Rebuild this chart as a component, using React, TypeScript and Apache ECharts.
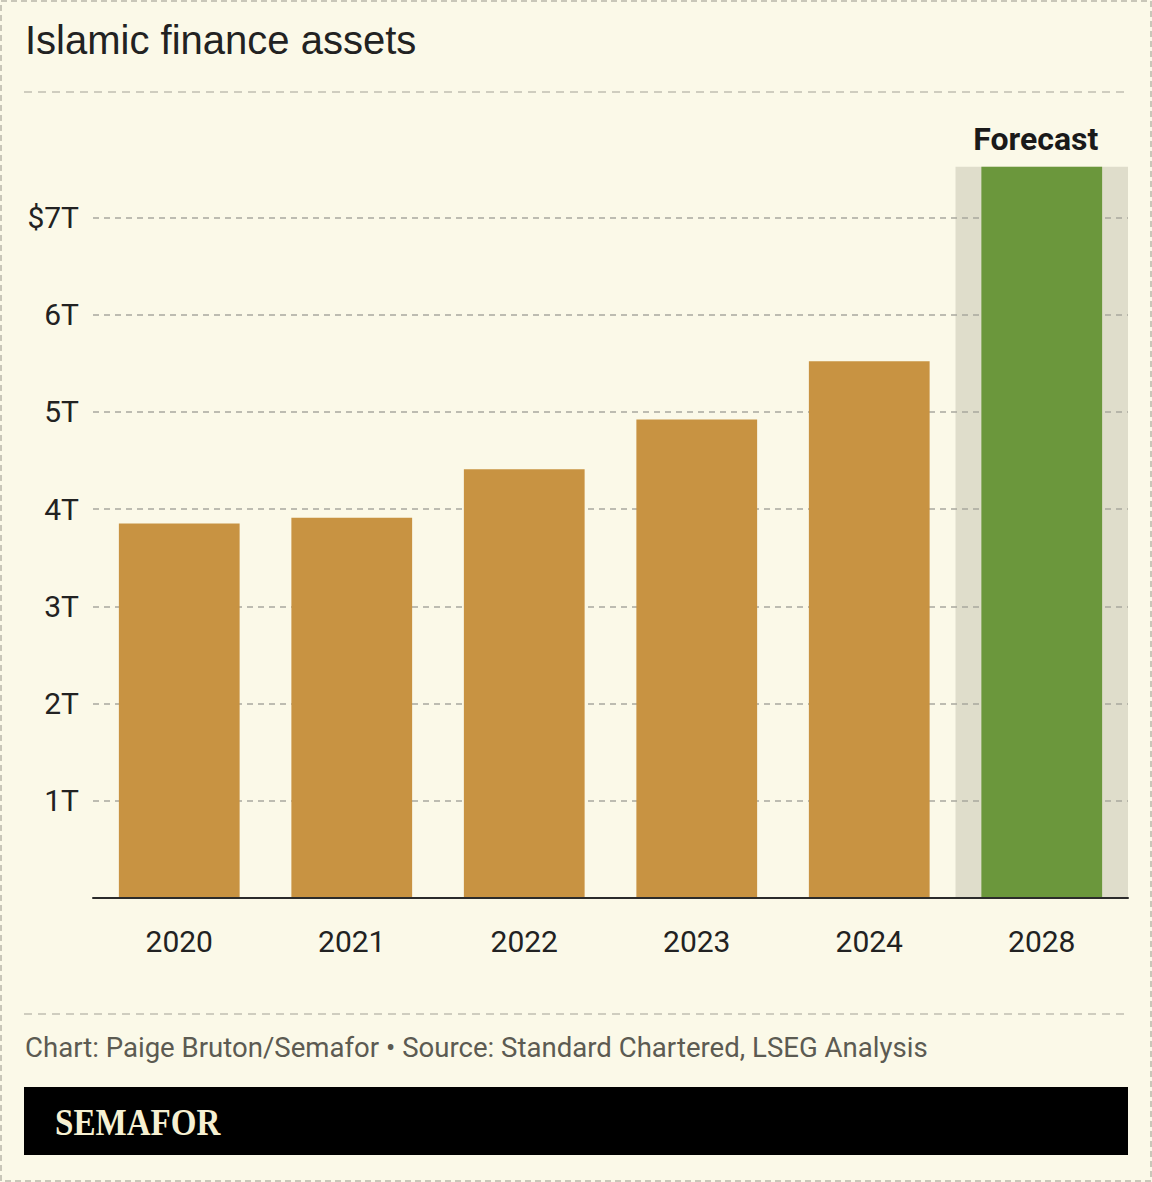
import React, { useEffect, useRef } from "react";
import * as echarts from "echarts";

const years = ["2020", "2021", "2022", "2023", "2024", "2028"];
const actualValues = [3.85, 3.91, 4.41, 4.92, 5.52, null];
const forecastValues = [null, null, null, null, null, 7.52];
const yTicks = [0, 1, 2, 3, 4, 5, 6, 7, 8];

const TITLE = "Islamic finance assets";
const SOURCE = "Chart: Paige Bruton/Semafor \u2022 Source: Standard Chartered, LSEG Analysis";
const LOGO = "SEMAFOR";
const FORECAST_LABEL = "Forecast";

const BG = "#fbf9e8";
const GOLD = "#c89342";
const GREEN = "#6b973c";
const BAND = "#dfddcb";
const GRID = "#a9a89e";
const DASH = "#cfcdbf";

export default function App() {
  const ref = useRef<HTMLDivElement>(null);

  useEffect(() => {
    if (!ref.current) return;
    const chart = echarts.init(ref.current, undefined, { renderer: "svg" });
    const option: any = {
      animation: false,
      backgroundColor: BG,
      grid: { left: 93, right: 24, top: 120, bottom: 284, containLabel: false },
      xAxis: [
        {
          type: "category",
          data: years,
          axisLine: { lineStyle: { color: "#2b2b2b", width: 2 } },
          axisTick: { alignWithLabel: true, length: 10, lineStyle: { color: "#2b2b2b", width: 2 } },
          axisLabel: { fontFamily: "Roboto", fontSize: 30, color: "#222", margin: 28 },
          z: 5,
        },
        {
          type: "category",
          data: years,
          show: false,
        },
      ],
      yAxis: {
        type: "value",
        min: 0,
        max: 8,
        interval: 1,
        axisLine: { show: false },
        axisTick: { show: false },
        axisLabel: {
          fontFamily: "Roboto",
          fontSize: 30,
          color: "#222",
          margin: 14,
          showMaxLabel: false,
          formatter: (v: number) => {
            if (v === 0 || v === yTicks[yTicks.length - 1]) return "";
            return v === 7 ? "$7T" : v + "T";
          },
        },
        splitLine: {
          show: true,
          showMinLine: false,
          showMaxLine: false,
          lineStyle: { color: GRID, type: [6, 5], width: 1.5 },
        },
      },
      series: [
        {
          type: "bar",
          xAxisIndex: 1,
          data: forecastValues,
          barWidth: "100%",
          itemStyle: { color: BAND },
          z: -1,
          label: {
            show: true,
            position: "top",
            distance: 12,
            offset: [-6, 0],
            formatter: FORECAST_LABEL,
            fontFamily: "Roboto",
            fontWeight: "bold",
            fontSize: 32,
            color: "#1a1a1a",
          },
        },
        {
          type: "bar",
          xAxisIndex: 0,
          data: actualValues.map((v, i) => (v === null ? { value: forecastValues[i], itemStyle: { color: GREEN } } : v)),
          barWidth: "70%",
          itemStyle: { color: GOLD },
          z: 3,
        },
      ],
      graphic: [
        {
          type: "rect",
          shape: { x: 1, y: 1, width: 1150, height: 1180 },
          style: { fill: "none", stroke: "#c9c7b9", lineWidth: 2, lineDash: [6, 4] },
          silent: true,
        },
        {
          type: "text",
          x: 25,
          y: 40,
          style: {
            text: TITLE,
            font: "40px 'Liberation Sans'",
            fill: "#222",
            textVerticalAlign: "middle",
          },
        },
        {
          type: "line",
          shape: { x1: 24, y1: 92, x2: 1128, y2: 92 },
          style: { stroke: DASH, lineWidth: 2, lineDash: [8, 6] },
        },
        {
          type: "line",
          shape: { x1: 24, y1: 1014, x2: 1128, y2: 1014 },
          style: { stroke: DASH, lineWidth: 2, lineDash: [8, 6] },
        },
        {
          type: "text",
          x: 25,
          y: 1047,
          scaleX: 0.985,
          style: {
            text: SOURCE,
            font: "28px Roboto",
            fill: "#5c5b52",
            textVerticalAlign: "middle",
          },
        },
        {
          type: "rect",
          shape: { x: 24, y: 1087, width: 1104, height: 68 },
          style: { fill: "#000" },
        },
        {
          type: "text",
          x: 55,
          y: 1122,
          scaleX: 0.87,
          style: {
            text: LOGO,
            font: "bold 38px 'Liberation Serif'",
            fill: "#f6f0d2",
            textVerticalAlign: "middle",
          },
        },
      ],
    };
    chart.setOption(option);
    return () => chart.dispose();
  }, []);

  return (
    <div
      ref={ref}
      style={{ position: "absolute", left: 0, top: 0, width: 1152, height: 1182 }}
    />
  );
}
